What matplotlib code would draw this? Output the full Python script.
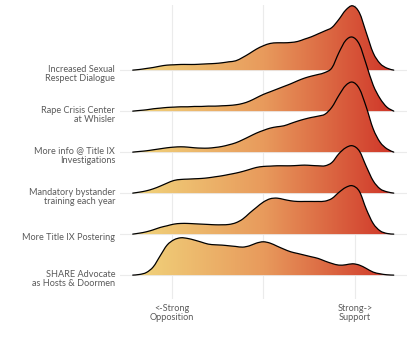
import numpy as np
import matplotlib.pyplot as plt
from matplotlib.colors import LinearSegmentedColormap
from matplotlib.path import Path
from matplotlib.patches import PathPatch

# survey items, bottom to top
items = ["SHARE Advocate\nas Hosts & Doormen",
         "More Title IX Postering",
         "Mandatory bystander\ntraining each year",
         "More info @ Title IX\nInvestigations",
         "Rape Crisis Center\nat Whisler",
         "Increased Sexual\nRespect Dialogue"]

# points where the densities were read (1 = strong opposition, 5 = strong support)
x_pts = np.linspace(0.15, 5.85, 39)

# density heights (arbitrary units)
dens_share = [0, 2, 8, 25, 58, 90, 106, 112, 110, 105, 99, 93, 91, 90, 88, 86, 84, 88, 96, 100,
              96, 87, 78, 70, 65, 60, 55, 50, 42, 35, 30, 31, 34, 30, 20, 9, 4, 1, 0]
dens_poster = [0, 3, 7, 13, 20, 25, 30, 32, 32, 31, 30, 29, 28, 28, 29, 34, 45, 63, 80, 96,
               106, 108, 104, 100, 98, 98, 98, 98, 99, 107, 125, 140, 145, 128, 75, 32, 10, 2, 0]
dens_bystander = [0, 3, 7, 13, 21, 30, 38, 41, 42, 43, 44, 46, 49, 52, 56, 60, 65, 71, 77, 80,
                  81, 82, 82, 82, 83, 84, 83, 82, 82, 92, 118, 136, 142, 126, 80, 37, 13, 4, 0]
dens_titleix = [0, 2, 4, 7, 10, 13, 15, 16, 15, 13, 12, 12, 14, 17, 22, 28, 37, 47, 57, 65,
                72, 76, 79, 86, 93, 99, 104, 108, 114, 135, 170, 200, 210, 190, 135, 70, 30, 10, 0]
dens_crisis = [0, 2, 4, 7, 9, 11, 12, 13, 13, 14, 14, 15, 15, 16, 17, 19, 23, 30, 40, 50,
               58, 66, 74, 82, 91, 99, 105, 110, 116, 130, 175, 212, 222, 200, 140, 78, 38, 12, 0]
dens_dialogue = [0, 2, 5, 8, 12, 15, 16, 17, 17, 17, 18, 19, 20, 22, 25, 28, 38, 50, 63, 73,
                 80, 82, 82, 83, 86, 93, 100, 109, 118, 128, 152, 180, 193, 172, 112, 52, 20, 6, 0]

densities = [dens_share, dens_poster, dens_bystander, dens_titleix, dens_crisis, dens_dialogue]

tick_pos = [1, 5]
tick_labels = ["<-Strong\nOpposition", "Strong->\nSupport"]
grid_pos = [1, 3, 5]

scale = 1 / 123.0
text_col = "#5a5a5a"
plt.rcParams['font.family'] = ['Lato', 'DejaVu Sans']

cmap = LinearSegmentedColormap.from_list("ridge", ["#f1d57c", "#e89a5c", "#cf3428"])


def smooth_verts(x, y):
    # cubic bezier pieces through the read points (catmull-rom handles)
    px = np.r_[x[0], x, x[-1]]
    py = np.r_[y[0], y, y[-1]]
    verts = [(x[0], y[0])]
    codes = [Path.MOVETO]
    for k in range(1, len(px) - 2):
        c1 = (px[k] + (px[k + 1] - px[k - 1]) / 6, py[k] + (py[k + 1] - py[k - 1]) / 6)
        c2 = (px[k + 1] - (px[k + 2] - px[k]) / 6, py[k + 1] - (py[k + 2] - py[k]) / 6)
        verts += [c1, c2, (px[k + 1], py[k + 1])]
        codes += [Path.CURVE4] * 3
    return verts, codes


fig = plt.figure(figsize=(4.12, 3.43), dpi=100)
ax = fig.add_axes([0.291, 0.128, 0.697, 0.857])
xmin, xmax = -0.13, 6.14
ymin, ymax = -0.585, 6.585

# grid
for g in grid_pos:
    ax.axvline(g, color="#ebebeb", lw=0.8, zorder=0)
for i in range(len(items)):
    ax.axhline(i, color="#ebebeb", lw=0.8, zorder=0)

grad = np.linspace(0, 1, 256).reshape(1, -1)
n = len(items)
for i in range(n - 1, -1, -1):
    h = np.array(densities[i]) * scale + i
    z = 2 * (n - i)
    verts, codes = smooth_verts(x_pts, h)
    line_path = Path(verts, codes)
    fill_path = Path(verts + [(x_pts[0], i), (x_pts[0], i)],
                     codes + [Path.LINETO, Path.CLOSEPOLY])
    clip = PathPatch(fill_path, facecolor="none", edgecolor="none")
    ax.add_patch(clip)
    im = ax.imshow(grad, cmap=cmap, aspect="auto", extent=[x_pts[0], x_pts[-1], ymin, ymax],
                   zorder=z, interpolation="bilinear")
    im.set_clip_path(clip)
    ax.add_patch(PathPatch(line_path, facecolor="none", edgecolor="black", lw=0.9,
                           zorder=z + 1, capstyle="round"))

ax.set_xlim(xmin, xmax)
ax.set_ylim(ymin, ymax)
ax.set_xticks(tick_pos)
ax.set_xticklabels(tick_labels, fontsize=6.6, color=text_col, linespacing=1.0)
ax.set_yticks([i - 0.06 for i in range(n)])
ax.set_yticklabels(items, fontsize=6.6, color=text_col, linespacing=1.0, ha="right")
ax.tick_params(length=0, pad=3.5)
for s in ax.spines.values():
    s.set_visible(False)

fig.savefig("out.png", dpi=100)
